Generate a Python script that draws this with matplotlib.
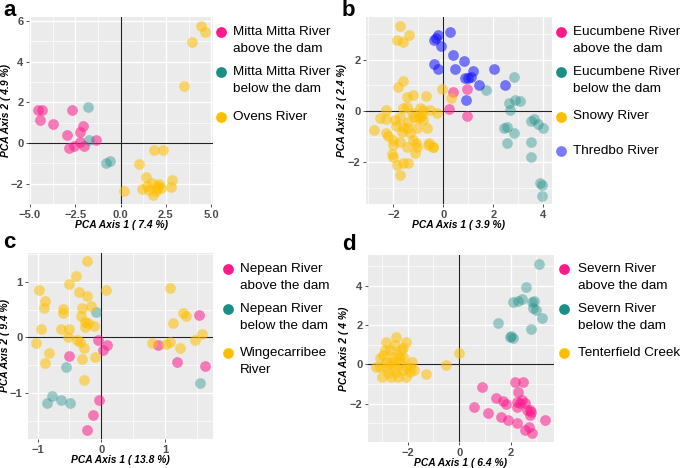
import numpy as np
import matplotlib.pyplot as plt

plt.rcParams['font.family'] = ['Liberation Sans', 'DejaVu Sans']

PINK = '#FF1A8C'
TEAL = '#1B8E88'
YELLOW = '#FFBF00'
BLUE = '#1010FF'
BG = '#EBEBEB'

# ---- panel a : Mitta Mitta / Ovens ----
mitta_above = [(-4.55, 1.63), (-4.35, 1.63), (-4.43, 1.15), (-3.70, 0.95), (-2.70, 1.63),
               (-2.93, 0.38), (-2.05, 0.83), (-2.24, 0.52), (-1.33, 0.16), (-2.22, 0.06),
               (-2.84, -0.27), (-2.57, -0.15), (-2.00, -0.17)]
mitta_below = [(-1.78, 1.76), (-1.74, 0.16), (-0.82, -0.98), (-0.59, -0.87)]
ovens = [(0.18, -2.35), (1.03, -1.05), (1.87, -0.36), (2.35, -0.36), (1.43, -1.67),
         (1.17, -2.24), (1.46, -2.13), (1.74, -1.96), (1.80, -2.58), (2.01, -2.20),
         (2.10, -2.00), (2.23, -2.20), (2.84, -1.83), (2.78, -2.16), (1.56, -2.29),
         (1.95, -2.35), (2.05, -2.10), (4.43, 5.76), (4.67, 5.44), (3.92, 4.95), (3.52, 2.78)]

# ---- panel b : Eucumbene / Snowy / Thredbo ----
eucumbene_above = [(0.40, 0.72), (0.94, 0.86), (0.24, 0.07), (0.94, -0.20)]
eucumbene_below = [(1.71, 0.82), (2.81, 1.34), (2.61, 0.30), (2.88, 0.43), (3.08, 0.40),
                   (2.65, 0.04), (2.41, -0.65), (2.54, -0.61), (2.81, -0.87), (2.54, -1.26),
                   (3.51, -0.38), (3.61, -0.33), (3.78, -0.50), (3.99, -0.68), (3.51, -1.20),
                   (3.52, -1.80), (3.86, -2.80), (3.95, -2.88), (3.95, -3.32)]
snowy = [(-1.74, 3.32), (-1.87, 2.75), (-1.63, 2.68), (-1.37, 2.97), (-0.07, 0.86),
         (0.29, 0.49), (-1.81, 0.95), (-1.61, 1.15), (-1.47, 0.56), (-1.23, 0.63),
         (-0.70, 0.59), (-2.28, 0.04), (-2.30, -0.33), (-1.94, -0.35), (-1.74, -0.22),
         (-1.47, 0.14), (-0.94, 0.10), (-0.54, 0.04), (-0.27, -0.09), (-2.78, -0.74),
         (-2.30, -0.87), (-2.21, -0.98), (-2.01, -1.13), (-2.04, -1.68), (-1.85, -2.11),
         (-1.63, -2.04), (-1.41, -2.04), (-1.74, -2.50), (-1.16, -0.22), (-1.00, -0.29),
         (-0.67, -0.68), (-0.60, -1.33), (-0.43, -1.42), (-1.10, -1.26), (-1.47, -0.68),
         (-1.34, -0.87), (-1.61, -0.61), (-1.74, -1.20), (-1.20, -1.13), (-1.07, -0.68),
         (-0.80, -0.35), (-2.01, -1.33), (-1.14, -1.65), (-1.47, -1.39), (-2.54, -0.29),
         (-1.61, 0.10), (-0.87, -0.16), (-1.27, -0.09), (-2.01, -1.78), (-1.67, -0.81),
         (-1.41, -0.42), (-0.94, -0.22), (-1.07, -1.39), (-0.80, 0.04), (-0.56, -1.26),
         (-0.40, -1.39), (-1.90, -0.60)]
thredbo = [(-0.37, 2.75), (-0.20, 2.95), (-0.30, 2.85), (0.27, 3.06), (-0.09, 2.51),
           (0.40, 2.19), (-0.37, 1.84), (-0.23, 1.63), (0.47, 1.63), (0.84, 1.93),
           (0.87, 1.28), (1.00, 1.28), (1.18, 1.54), (1.11, 1.34), (1.41, 1.02),
           (2.01, 1.63), (2.48, 1.02), (0.90, 0.43)]

# ---- panel c : Nepean / Wingecarribee ----
nepean_above = [(-0.06, -0.04), (0.09, -0.14), (0.02, -0.23), (-0.51, -0.33), (-0.04, -1.12),
                (-0.13, -1.40), (-0.23, -1.67), (0.88, -0.14), (1.53, 0.41), (1.19, -0.44),
                (1.62, -0.51)]
nepean_below = [(-0.08, 0.46), (-0.56, -0.54), (-0.86, -1.19), (-0.77, -1.06), (-0.63, -1.12),
                (-0.49, -1.19), (1.54, -0.83)]
wingecarribee = [(-0.23, 1.37), (-0.98, 0.86), (-0.40, 1.10), (-0.50, 0.96), (-0.35, 0.81),
                 (-0.23, 0.75), (0.07, 0.86), (-0.89, 0.66), (-0.90, 0.53), (-0.60, 0.51),
                 (-0.60, 0.44), (-0.31, 0.53), (-0.17, 0.56), (-0.32, 0.38), (-0.25, 0.28),
                 (-0.21, 0.26), (-0.26, 0.19), (-0.12, 0.20), (-0.95, 0.15), (-0.64, 0.15),
                 (-0.50, 0.15), (-0.52, 0.01), (-0.38, -0.04), (-0.34, -0.08), (-1.02, -0.10),
                 (-0.82, -0.29), (-0.28, -0.20), (-0.89, -0.47), (-0.30, -0.39), (-0.10, -0.36),
                 (-0.27, -0.76), (1.07, 0.89), (1.28, 0.44), (1.32, 0.38), (1.13, 0.26),
                 (1.57, 0.06), (1.47, -0.05), (0.79, -0.10), (1.01, -0.12), (1.07, -0.08),
                 (1.24, -0.19)]

# ---- panel d : Severn / Tenterfield ----
severn_above = [(0.87, -1.14), (0.58, -2.15), (1.13, -2.49), (1.43, -1.73), (1.71, -1.85),
                (1.81, -2.02), (1.61, -2.66), (1.91, -2.80), (2.17, -0.88), (2.49, -0.88),
                (2.30, -1.42), (2.23, -1.90), (2.36, -1.98), (2.43, -1.81), (2.56, -1.95),
                (2.62, -2.32), (2.75, -2.32), (2.75, -2.58), (2.23, -2.97), (2.56, -3.34),
                (2.81, -3.47), (2.72, -3.17), (2.23, -2.15), (3.33, -2.83), (2.80, -2.41)]
severn_below = [(1.52, 2.12), (1.97, 1.41), (2.08, 1.36), (2.03, 1.46), (2.79, 1.78),
                (2.10, 3.19), (2.30, 3.24), (2.43, 3.31), (2.60, 3.92), (2.81, 3.19),
                (2.88, 2.88), (2.98, 2.78), (3.20, 2.36), (3.10, 5.10), (2.90, 3.22)]
tenterfield = [(0.00, 0.59), (-0.52, -0.03), (-1.27, -0.51), (-2.46, 1.37), (-2.83, 1.15),
               (-2.18, 0.86), (-2.37, 0.47), (-2.70, 0.73), (-3.09, 0.31), (-3.24, -0.12),
               (-2.98, -0.63), (-2.63, -0.63), (-2.08, -0.63), (-1.82, 0.14), (-1.76, -0.29),
               (-2.05, -0.12), (-2.31, 0.05), (-2.57, 0.39), (-2.83, -0.20), (-2.96, 0.47),
               (-2.18, -0.29), (-2.50, -0.12), (-1.92, -0.12), (-2.70, 0.05), (-2.14, 0.31),
               (-2.83, 0.14), (-2.44, -0.37), (-2.76, -0.46), (-2.24, 0.73), (-2.50, 0.98),
               (-2.05, 1.15), (-3.09, -0.12), (-1.92, -0.37), (-2.37, -0.63), (-2.89, 0.73),
               (-2.31, 0.31), (-2.57, 0.14)]

ALPHA = {PINK: 0.55, TEAL: 0.4, YELLOW: 0.55, BLUE: 0.55}


def fmt(vals, f='%g'):
    return [(f % v).replace('-', '\u2212') for v in vals]


def panel(ax, groups, xlim, ylim, xt, xtl, xm, yt, ym, xlab, ylab):
    ax.set_facecolor(BG)
    for s in ax.spines.values():
        s.set_visible(False)
    ax.set_xlim(xlim)
    ax.set_ylim(ylim)
    ax.set_xticks(xt)
    ax.set_xticklabels(xtl)
    ax.set_xticks(xm, minor=True)
    ax.set_yticks(yt)
    ax.set_yticklabels(fmt(yt))
    ax.set_yticks(ym, minor=True)
    ax.set_axisbelow(True)
    ax.grid(which='major', color='white', lw=1.0)
    ax.grid(which='minor', color='white', lw=0.5)
    ax.tick_params(which='minor', length=0)
    ax.tick_params(which='major', length=2.5, width=0.6, color='#333333',
                   labelsize=8, labelcolor='#4D4D4D', pad=1.5)
    for lab in ax.get_xticklabels() + ax.get_yticklabels():
        lab.set_fontweight('bold')
    ax.axhline(0, color='#222222', lw=0.8, zorder=1.5)
    ax.axvline(0, color='#222222', lw=0.8, zorder=1.5)
    for pts, col in groups:
        pts = np.array(pts)
        ax.scatter(pts[:, 0], pts[:, 1], s=60, color=col, alpha=ALPHA[col],
                   linewidths=0, zorder=2)
    ax.set_xlabel(xlab, fontsize=7.4, fontweight='bold', style='italic')
    ax.set_ylabel(ylab, fontsize=7.4, fontweight='bold', style='italic')
    ax.xaxis.set_label_coords(0.5, -0.085)
    ax.yaxis.set_label_coords(-0.10, 0.5)


fig = plt.figure(figsize=(6.85, 4.68), dpi=100)
W, H = 685, 468


def rect(l, r, t, b):
    return [l / W, 1 - b / H, (r - l) / W, (b - t) / H]


ax_a = fig.add_axes(rect(29, 213, 17, 204))
xt = [-5, -2.5, 0, 2.5, 5]
panel(ax_a, [(mitta_above, PINK), (mitta_below, TEAL), (ovens, YELLOW)],
      (-5.05, 5.1), (-2.97, 6.19), xt, fmt(xt, '%.1f'), [-3.75, -1.25, 1.25, 3.75],
      [-2, 0, 2, 4, 6], [-3, -1, 1, 3, 5],
      'PCA Axis 1 ( 7.4 %)', 'PCA Axis 2 ( 4.9 %)')

ax_b = fig.add_axes(rect(366, 552, 17, 204))
xt = [-2, 0, 2, 4]
panel(ax_b, [(eucumbene_above, PINK), (eucumbene_below, TEAL), (snowy, YELLOW), (thredbo, BLUE)],
      (-3.1, 4.35), (-3.63, 3.66), xt, fmt(xt), [-3, -1, 1, 3],
      [-2, 0, 2], [-3, -1, 1, 3],
      'PCA Axis 1 ( 3.9 %)', 'PCA Axis 2 ( 2.4 %)')

ax_c = fig.add_axes(rect(28, 213, 253, 439))
xt = [-1, 0, 1]
panel(ax_c, [(nepean_above, PINK), (nepean_below, TEAL), (wingecarribee, YELLOW)],
      (-1.15, 1.75), (-1.83, 1.52), xt, fmt(xt), [-0.5, 0.5, 1.5],
      [-1, 0, 1], [-1.5, -0.5, 0.5, 1.5],
      'PCA Axis 1 ( 13.8 %)', 'PCA Axis 2 ( 9.4 %)')

ax_d = fig.add_axes(rect(368, 554, 255, 442))
xt = [-2, 0, 2]
panel(ax_d, [(severn_above, PINK), (severn_below, TEAL), (tenterfield, YELLOW)],
      (-3.54, 3.68), (-3.94, 5.56), xt, fmt(xt), [-3, -1, 1, 3],
      [-2, 0, 2, 4], [-3, -1, 1, 3, 5],
      'PCA Axis 1 ( 6.4 %)', 'PCA Axis 2 ( 4 %)')

# overlay in pixel coordinates for panel letters and legends
ov = fig.add_axes([0, 0, 1, 1], facecolor='none')
ov.set_xlim(0, W)
ov.set_ylim(H, 0)
ov.axis('off')

for letter, x, y in [('a', 3, 10), ('b', 342, 10), ('c', 3, 242), ('d', 342, 244)]:
    ov.text(x, y, letter, fontsize=16, fontweight='bold', va='center', ha='left')

legends = [
    (221.5, 233, [(32, ['Mitta Mitta River', 'above the dam'], PINK),
                  (72, ['Mitta Mitta River', 'below the dam'], TEAL),
                  (116.5, ['Ovens River'], YELLOW)]),
    (561, 573, [(32, ['Eucumbene River', 'above the dam'], PINK),
                (72, ['Eucumbene River', 'below the dam'], TEAL),
                (116.5, ['Snowy River'], YELLOW),
                (150.5, ['Thredbo River'], '#7B7BFF')]),
    (228.5, 240, [(269, ['Nepean River', 'above the dam'], PINK),
                  (309, ['Nepean River', 'below the dam'], TEAL),
                  (353, ['Wingecarribee', 'River'], YELLOW)]),
    (564, 578, [(269, ['Severn River', 'above the dam'], PINK),
                (309, ['Severn River', 'below the dam'], TEAL),
                (353, ['Tenterfield Creek'], YELLOW)]),
]
for dx, tx, entries in legends:
    for y, lines, col in entries:
        ov.scatter([dx], [y], s=60, color=col, linewidths=0)
        for i, line in enumerate(lines):
            ov.text(tx, y + 16.7 * i, line, fontsize=9.7, va='center', ha='left')

fig.savefig('out.png', dpi=100)
